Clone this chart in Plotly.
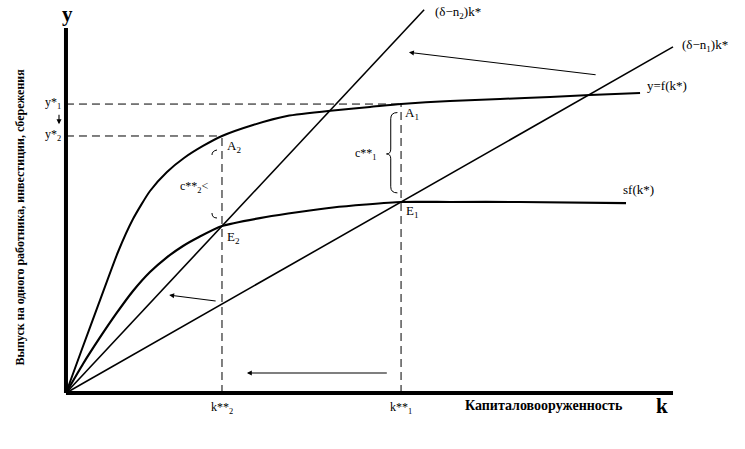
import plotly.graph_objects as go

# ---------------- data (abstract units: k on 0..10, y on 0..6) ----------------
k_f = [0, 0.264, 0.544, 0.857, 1.104, 1.384, 1.664, 1.944, 2.257, 2.570,
       3.081, 3.641, 4.399, 5.008, 5.519, 6.326, 7.150, 7.974, 8.633, 9.457]
y_f = [0, 0.723, 1.480, 2.318, 2.860, 3.321, 3.633, 3.863, 4.061, 4.225,
       4.406, 4.554, 4.645, 4.702, 4.751, 4.801, 4.834, 4.867, 4.900, 4.933]

k_sf = [0, 0.280, 0.544, 0.824, 1.104, 1.384, 1.647, 1.928, 2.191, 2.570,
        3.295, 3.839, 4.399, 4.942, 5.519, 6.326, 7.479, 9.226]
y_sf = [0, 0.477, 0.888, 1.299, 1.677, 1.989, 2.219, 2.417, 2.565, 2.745,
        2.893, 2.976, 3.050, 3.099, 3.140, 3.140, 3.140, 3.123]

line_n2_k = [0, 5.90]
line_n2_y = [0, 6.30]
line_n1_k = [0, 10.0]
line_n1_y = [0, 5.69]

k_star = [2.57, 5.52]      # k**2, k**1
y_star = [4.225, 4.75]     # y*2 (A2), y*1 (A1)
e_y = [2.745, 3.14]        # E2, E1

x_axis_end = 10.0
y_axis_end = 6.0

FONT = "Liberation Serif, Times New Roman, serif"
BLACK = "black"

fig = go.Figure()

def add_line(xs, ys, width, dash=None):
    fig.add_trace(go.Scatter(x=xs, y=ys, mode="lines",
                             line=dict(color=BLACK, width=width, dash=dash),
                             hoverinfo="skip", showlegend=False))

# dashed guides
DASH = "8px,5px"
add_line([0, k_star[1]], [y_star[1], y_star[1]], 1, DASH)
add_line([0, k_star[0]], [y_star[0], y_star[0]], 1, DASH)
add_line([k_star[0], k_star[0]], [0, y_star[0]], 1, DASH)
add_line([k_star[1], k_star[1]], [0, y_star[1]], 1, DASH)

# straight lines
add_line(line_n2_k, line_n2_y, 1.6)
add_line(line_n1_k, line_n1_y, 1.6)

# curves
fig.add_trace(go.Scatter(x=k_f, y=y_f, mode="lines",
                         line=dict(color=BLACK, width=2, shape="spline", smoothing=0.6),
                         hoverinfo="skip", showlegend=False))
fig.add_trace(go.Scatter(x=k_sf, y=y_sf, mode="lines",
                         line=dict(color=BLACK, width=2.2, shape="spline", smoothing=0.6),
                         hoverinfo="skip", showlegend=False))

# axes
add_line([0, x_axis_end], [0, 0], 4)
add_line([0, 0], [0, y_axis_end], 4)

# braces
xr, xm, xt = 5.46, 5.35, 5.28
yt, yb, ym = 4.61, 3.29, 3.93
brace1 = (f"M {xr},{yt} Q {xm},{yt} {xm},{yt-0.1} L {xm},{ym+0.08} "
          f"Q {xm},{ym} {xt},{ym} Q {xm},{ym} {xm},{ym-0.08} "
          f"L {xm},{yb+0.1} Q {xm},{yb} {xr},{yb}")
fig.add_shape(type="path", path=brace1, xref="x", yref="y",
              line=dict(color=BLACK, width=1))
fig.add_shape(type="path", path="M 2.488,3.995 Q 2.405,3.98 2.405,3.913",
              xref="x", yref="y", line=dict(color=BLACK, width=1))
fig.add_shape(type="path", path="M 2.405,2.959 Q 2.405,2.877 2.488,2.877",
              xref="x", yref="y", line=dict(color=BLACK, width=1))

def txt(x, y, s, size=13, xanchor="left", bold=False, angle=0):
    fig.add_annotation(x=x, y=y, text=(f"<b>{s}</b>" if bold else s),
                       showarrow=False, xanchor=xanchor, yanchor="middle",
                       textangle=angle,
                       font=dict(family=FONT, size=size, color=BLACK))

def arrow(x0, y0, x1, y1):
    fig.add_annotation(x=x1, y=y1, ax=x0, ay=y0, xref="x", yref="y",
                       axref="x", ayref="y", text="", showarrow=True,
                       arrowhead=2, arrowsize=0.9, arrowwidth=1.1,
                       arrowcolor=BLACK)

txt(0.033, 6.23, "y", size=21, xanchor="center", bold=True)
txt(9.82, -0.21, "k", size=21, xanchor="center", bold=True)
txt(7.87, -0.21, "Капиталовооруженность", size=14, xanchor="center", bold=True)
txt(k_star[0], -0.25, "k**<sub>2</sub>", size=12, xanchor="center")
txt(k_star[1], -0.25, "k**<sub>1</sub>", size=12, xanchor="center")
txt(-0.05, 4.77, "y*<sub>1</sub>", size=12, xanchor="right")
txt(-0.05, 4.24, "y*<sub>2</sub>", size=12, xanchor="right")
txt(6.046, 6.26, "(δ−n<sub>2</sub>)k*", size=13)
txt(10.115, 5.72, "(δ−n<sub>1</sub>)k*", size=13)
txt(9.54, 5.05, "y=f(k*)", size=13)
txt(9.14, 3.34, "sf(k*)", size=13)
txt(2.62, 4.06, "A<sub>2</sub>", size=13)
txt(5.55, 4.60, "A<sub>1</sub>", size=13)
txt(2.62, 2.55, "E<sub>2</sub>", size=13)
txt(5.57, 2.98, "E<sub>1</sub>", size=13)
txt(5.15, 3.93, "c**<sub>1</sub>", size=12, xanchor="right")
txt(2.39, 3.38, "c**<sub>2</sub>&lt;", size=12, xanchor="right")
txt(-0.76, 2.9, "Выпуск на одного работника, инвестиции, сбережения",
    size=12, xanchor="center", bold=True, angle=-90)

arrow(8.75, 5.23, 5.65, 5.60)
arrow(2.49, 1.51, 1.70, 1.61)
arrow(5.31, 0.33, 2.98, 0.33)
arrow(-0.115, 4.60, -0.115, 4.42)

fig.update_layout(
    width=745, height=449,
    margin=dict(l=0, r=0, t=0, b=0),
    paper_bgcolor="white", plot_bgcolor="white",
    xaxis=dict(range=[-1.087, 11.186], visible=False, fixedrange=True),
    yaxis=dict(range=[-0.9206, 6.4606], visible=False, fixedrange=True),
    showlegend=False,
)

fig.write_html("out.html", config={"displayModeBar": False},
               post_script="document.body.style.margin='0';")
